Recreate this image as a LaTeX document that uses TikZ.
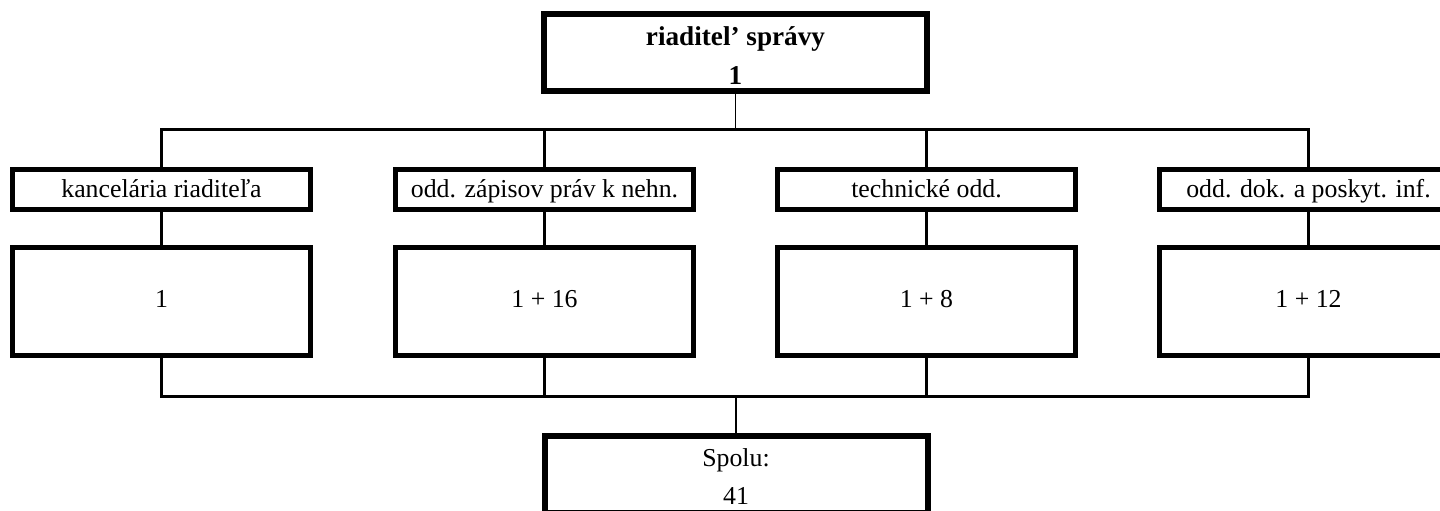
\documentclass[tikz,border=0pt]{standalone}
\usepackage{fontspec}
\setmainfont{Liberation Serif}
\begin{document}
\begin{tikzpicture}[x=0.5pt,y=-0.5pt,
  txt/.style={font=\fontsize{12.9}{19.2}\selectfont},
  bigbox/.style={draw,line width=3pt,minimum width=191.5pt,minimum height=38.5pt,inner sep=0pt},
  bigtext/.style={inner sep=0pt,align=center,txt},
  labelbox/.style={draw,line width=2.5pt,minimum width=149pt,minimum height=20pt,inner sep=0pt,text height=0.9em,text depth=0.08em,txt},
  countbox/.style={draw,line width=2.5pt,minimum width=149pt,minimum height=54pt,inner sep=0pt,text height=0.7em,text depth=0.12em,txt},
  bus/.style={line width=1.5pt,line join=miter},
  stem/.style={line width=0.9pt}]
\useasboundingbox (0,0) rectangle (1440,510);
\clip (0,0) rectangle (1440,510);
\fill[white] (0,0) rectangle (1440,510);
% top
\node[bigbox] (dir) at (735.5,52.5) {};
\node[bigtext,font=\fontsize{13.6}{19.2}\selectfont\bfseries] (dirt) at (735.5,55.5) {riaditel’ správy\\1};
% label boxes
\node[labelbox] (l1) at (161.5,189.5) {kancelária riaditeľa};
\node[labelbox] (l2) at (544.5,189.5) {odd. zápisov práv k nehn.};
\node[labelbox] (l3) at (926.5,189.5) {technické odd.};
\node[labelbox] (l4) at (1308.5,189.5) {odd. dok. a poskyt. inf.};
% count boxes
\node[countbox] (c1) at (161.5,301.5) {1};
\node[countbox] (c2) at (544.5,301.5) {1 + 16};
\node[countbox] (c3) at (926.5,301.5) {1 + 8};
\node[countbox] (c4) at (1308.5,301.5) {1 + 12};
% total
\node[bigbox] (tot) at (736,474.5) {};
\node[bigtext] (tott) at (736,476.5) {Spolu:\\41};
% buses
\coordinate (tb) at (735.5,129);
\coordinate (bb) at (735.5,396);
\draw[stem] (dir.south) -- (dir |- tb);
\draw[bus] (l1.north) -- (l1 |- tb) -- (l4 |- tb) -- (l4.north);
\draw[bus] (l2.north) -- (l2 |- tb);
\draw[bus] (l3.north) -- (l3 |- tb);
\draw[bus] (l1.south) -- (c1.north);
\draw[bus] (l2.south) -- (c2.north);
\draw[bus] (l3.south) -- (c3.north);
\draw[bus] (l4.south) -- (c4.north);
\draw[bus] (c1.south) -- (c1 |- bb) -- (c4 |- bb) -- (c4.south);
\draw[bus] (c2.south) -- (c2 |- bb);
\draw[bus] (c3.south) -- (c3 |- bb);
\draw[stem] (tot |- bb) -- (tot.north);
\end{tikzpicture}
\end{document}
